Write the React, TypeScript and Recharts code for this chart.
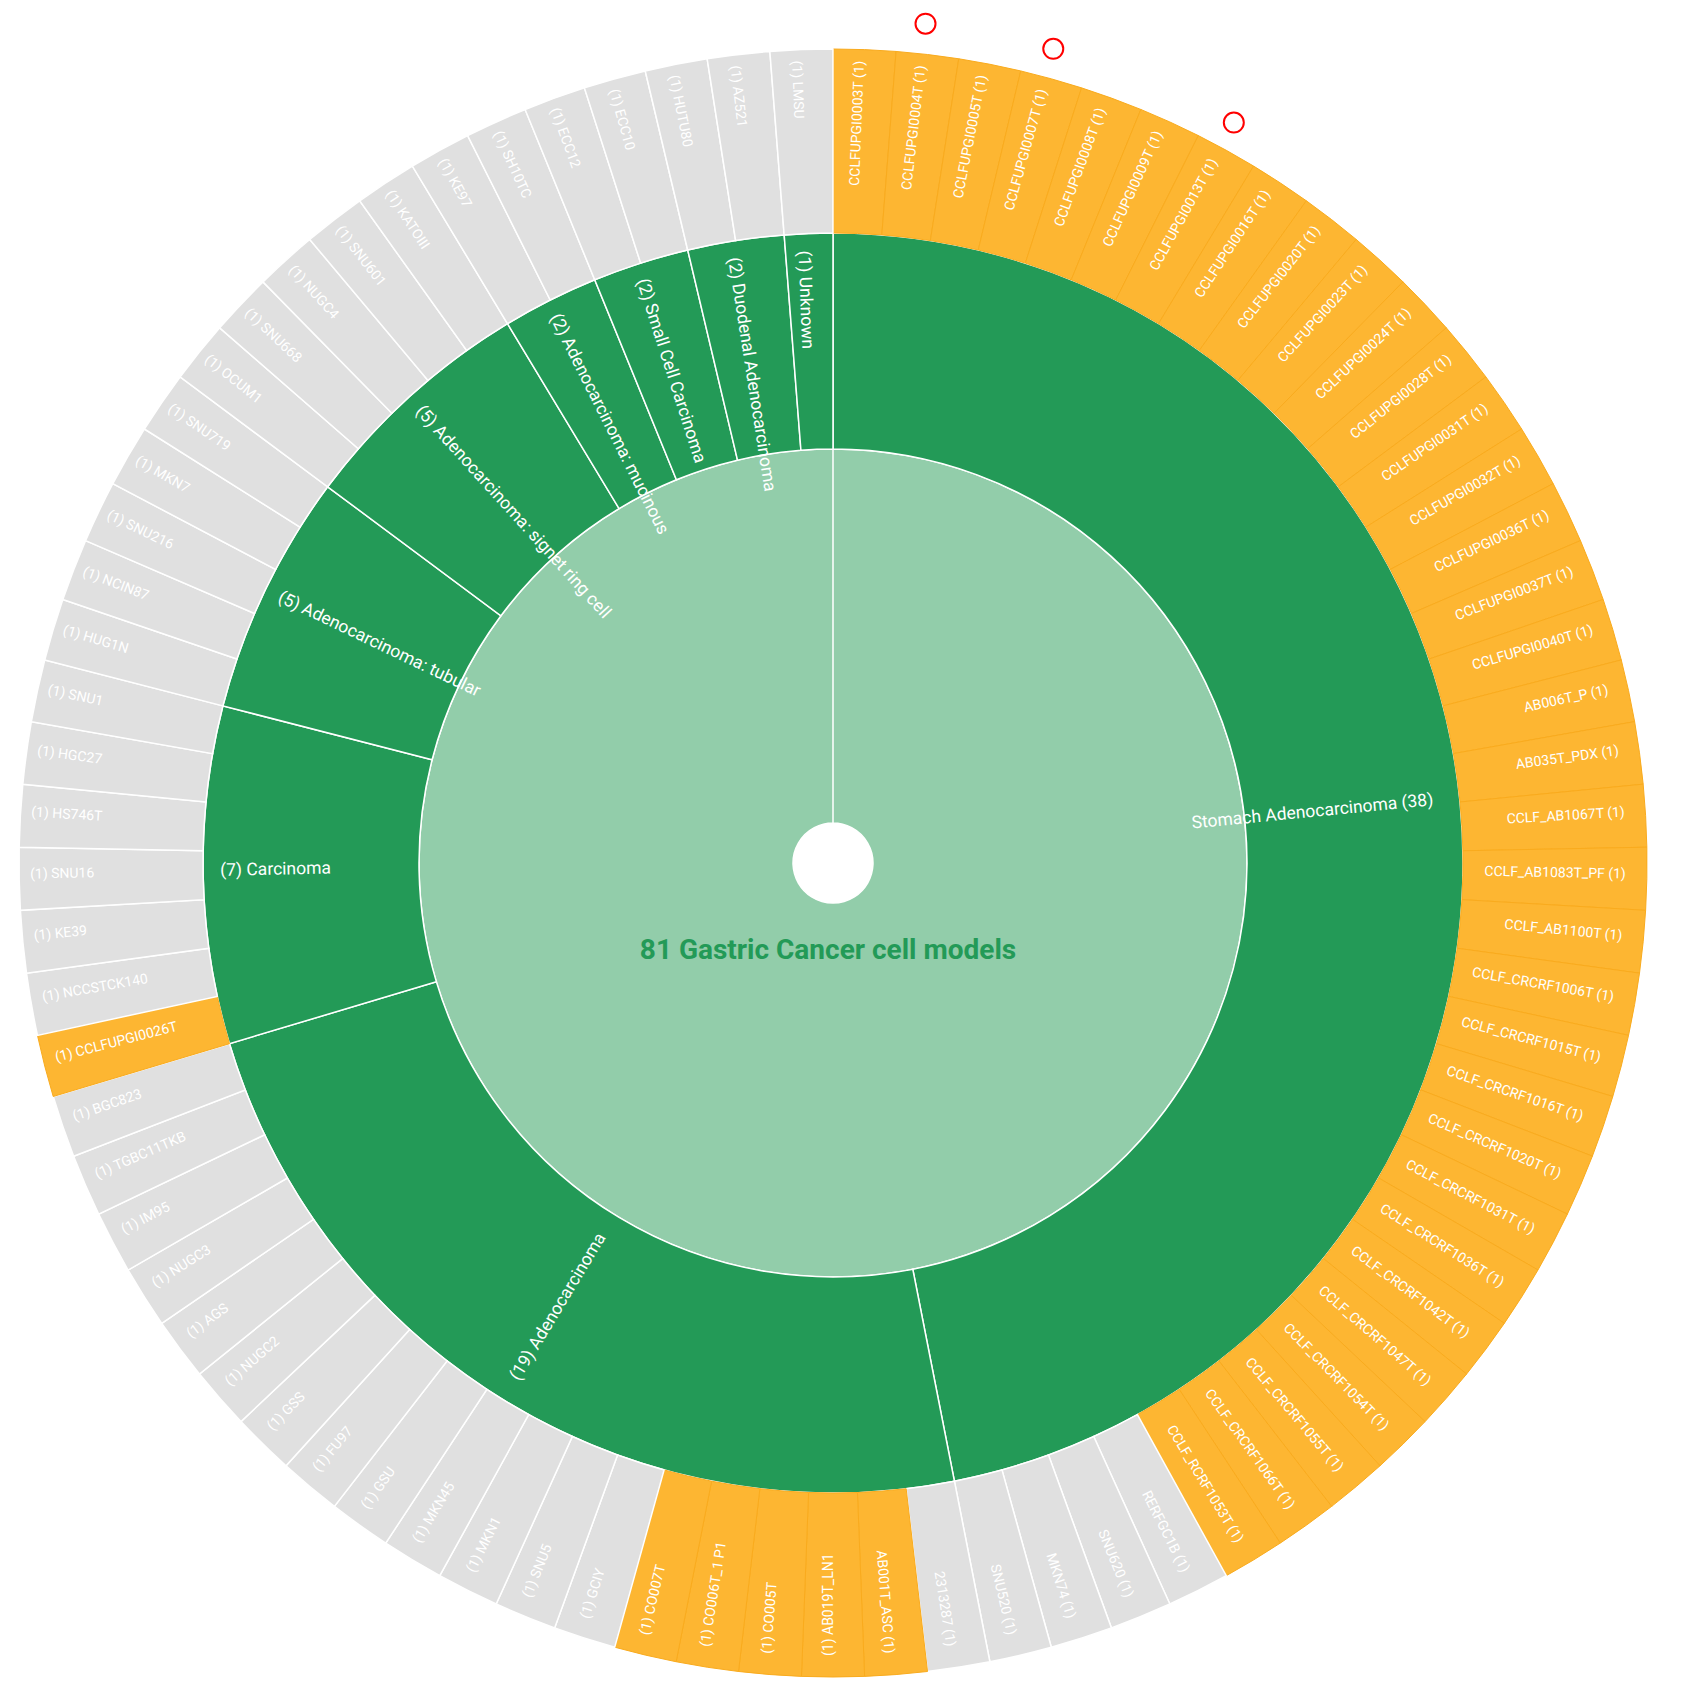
import React from 'react';
import { PieChart, Pie, Cell } from 'recharts';

const TITLE = '81 Gastric Cancer cell models';

// disease subtypes, clockwise from 12 o'clock
const subtypes = [
  'Stomach Adenocarcinoma',
  'Adenocarcinoma',
  'Carcinoma',
  'Adenocarcinoma: tubular',
  'Adenocarcinoma: signet ring cell',
  'Adenocarcinoma: mucinous',
  'Small Cell Carcinoma',
  'Duodenal Adenocarcinoma',
  'Unknown',
];

const stomachAdenoModels = [
  'CCLFUPGI0003T', 'CCLFUPGI0004T', 'CCLFUPGI0005T', 'CCLFUPGI0007T', 'CCLFUPGI0008T',
  'CCLFUPGI0009T', 'CCLFUPGI0013T', 'CCLFUPGI0016T', 'CCLFUPGI0020T', 'CCLFUPGI0023T',
  'CCLFUPGI0024T', 'CCLFUPGI0028T', 'CCLFUPGI0031T', 'CCLFUPGI0032T', 'CCLFUPGI0036T',
  'CCLFUPGI0037T', 'CCLFUPGI0040T', 'AB006T_P', 'AB035T_PDX', 'CCLF_AB1067T',
  'CCLF_AB1083T_PF', 'CCLF_AB1100T', 'CCLF_CRCRF1006T', 'CCLF_CRCRF1015T', 'CCLF_CRCRF1016T',
  'CCLF_CRCRF1020T', 'CCLF_CRCRF1031T', 'CCLF_CRCRF1036T', 'CCLF_CRCRF1042T', 'CCLF_CRCRF1047T',
  'CCLF_CRCRF1054T', 'CCLF_CRCRF1055T', 'CCLF_CRCRF1066T', 'CCLF_RCRF1053T',
  'RERFGC1B', 'SNU620', 'MKN74', 'SNU520',
];
const adenoModels = [
  '2313287', 'AB001T_ASC', 'AB019T_LN1', 'CO005T', 'CO006T_1 P1', 'CO007T',
  'GCIY', 'SNU5', 'MKN1', 'MKN45', 'GSU', 'FU97', 'GSS', 'NUGC2', 'AGS', 'NUGC3',
  'IM95', 'TGBC11TKB', 'BGC823',
];
const carcinomaModels = ['CCLFUPGI0026T', 'NCCSTCK140', 'KE39', 'SNU16', 'HS746T', 'HGC27', 'SNU1'];
const tubularModels = ['HUG1N', 'NCIN87', 'SNU216', 'MKN7', 'SNU719'];
const signetModels = ['OCUM1', 'SNU668', 'NUGC4', 'SNU601', 'KATOIII'];
const mucinousModels = ['KE97', 'SH10TC'];
const smallCellModels = ['ECC12', 'ECC10'];
const duodenalModels = ['HUTU80', 'AZ521'];
const unknownModels = ['LMSU'];

const modelsBySubtype = [
  stomachAdenoModels, adenoModels, carcinomaModels, tubularModels, signetModels,
  mucinousModels, smallCellModels, duodenalModels, unknownModels,
];

// newly derived models (highlighted)
const newModels = [
  ...stomachAdenoModels.slice(0, 34),
  'AB001T_ASC', 'AB019T_LN1', 'CO005T', 'CO006T_1 P1', 'CO007T',
  'CCLFUPGI0026T',
];
// models marked with a red circle
const flaggedModels = ['CCLFUPGI0004T', 'CCLFUPGI0007T', 'CCLFUPGI0013T'];

const rootData = [{ name: TITLE, value: modelsBySubtype.reduce((s, m) => s + m.length, 0) }];
const subtypeData = subtypes.map((name, i) => ({ name, value: modelsBySubtype[i].length }));
const modelData = modelsBySubtype.flatMap((list) => list.map((name) => ({ name, value: 1 })));

const CX = 820;
const CY = 850;
const R_HOLE = 40;
const R_ROOT = 414;
const R_MID = 630;
const R_OUT = 814;

const GREEN = '#239a57';
const LIGHT_GREEN = '#92cdaa';
const ORANGE = '#fdb632';
const GREY = '#e0e0e0';
const RAD = Math.PI / 180;

const radialLabel = (r: number, fontSize: number, withFlags = false) => (props: any) => {
  const mid = props.midAngle ?? (props.startAngle + props.endAngle) / 2;
  const theta = (((90 - mid) % 360) + 360) % 360;
  const right = theta < 179.9;
  const x = CX + r * Math.sin(theta * RAD);
  const y = CY - r * Math.cos(theta * RAD);
  const rot = right ? theta - 90 : theta - 270;
  const text = right ? `${props.name} (${props.value})` : `(${props.value}) ${props.name}`;
  const flagged = withFlags && flaggedModels.includes(props.name);
  const fx = CX + 840 * Math.sin(theta * RAD);
  const fy = CY - 840 * Math.cos(theta * RAD);
  return (
    <g>
      <text
        x={x}
        y={y}
        transform={`rotate(${rot} ${x} ${y})`}
        textAnchor={right ? 'end' : 'start'}
        dominantBaseline="central"
        fill="#ffffff"
        fontSize={fontSize}
        fontFamily="Roboto"
      >
        {text}
      </text>
      {flagged && <circle cx={fx} cy={fy} r={10} fill="none" stroke="#ff0000" strokeWidth={2} />}
    </g>
  );
};

const centerLabel = () => (
  <text x={CX} y={CY + 101} textAnchor="middle" fill={GREEN} fontSize={28} fontWeight={700} fontFamily="Roboto">
    {TITLE}
  </text>
);

export default function App() {
  return (
    <div style={{ fontFamily: 'Roboto' }}>
      <PieChart width={1680} height={1670}>
        <Pie
          data={rootData}
          dataKey="value"
          nameKey="name"
          cx={CX}
          cy={CY}
          innerRadius={R_HOLE}
          outerRadius={R_ROOT}
          startAngle={90}
          endAngle={-270}
          fill={LIGHT_GREEN}
          stroke="#ffffff"
          strokeWidth={1.5}
          label={centerLabel}
          labelLine={false}
          isAnimationActive={false}
        />
        <Pie
          data={subtypeData}
          dataKey="value"
          nameKey="name"
          cx={CX}
          cy={CY}
          innerRadius={R_ROOT}
          outerRadius={R_MID}
          startAngle={90}
          endAngle={-270}
          fill={GREEN}
          stroke="#ffffff"
          strokeWidth={1.5}
          label={radialLabel(R_MID - 22, 17.5)}
          labelLine={false}
          isAnimationActive={false}
        />
        <Pie
          data={modelData}
          dataKey="value"
          nameKey="name"
          cx={CX}
          cy={CY}
          innerRadius={R_MID}
          outerRadius={R_OUT}
          startAngle={90}
          endAngle={-270}
          label={radialLabel(R_OUT - 16, 14, true)}
          labelLine={false}
          isAnimationActive={false}
        >
          {modelData.map((d) => {
            const isNew = newModels.includes(d.name);
            return (
              <Cell
                key={d.name}
                fill={isNew ? ORANGE : GREY}
                stroke={isNew ? '#f9ab1e' : '#ffffff'}
                strokeWidth={isNew ? 1 : 1.5}
              />
            );
          })}
        </Pie>
      </PieChart>
    </div>
  );
}
